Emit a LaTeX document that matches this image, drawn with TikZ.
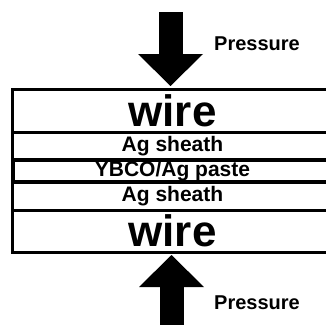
\documentclass[tikz,border=0pt]{standalone}
\usepackage{fontspec}
\setmainfont{Liberation Sans}
\usetikzlibrary{arrows.meta,positioning}

\begin{document}
\begin{tikzpicture}[x=1pt, y=-1pt,
  layer/.style={draw, line width=3pt, minimum width=320pt, inner sep=0pt,
                outer sep=0pt, anchor=north west,
                font=\fontsize{21}{21}\selectfont\bfseries},
  wirelayer/.style={layer, font=\fontsize{44}{44}\selectfont\bfseries},
  pressure/.style={line width=24pt, shorten >=3pt,
                   -{Triangle[width=65pt, length=32pt, line width=0pt]}},
  presslabel/.style={font=\fontsize{20}{20}\selectfont\bfseries},
]
\useasboundingbox (0,0) rectangle (326,324);

\node[wirelayer, minimum height=43pt] (wiretop) at (12.5,89) {wire};
\node[layer, minimum height=28pt, below=0pt of wiretop] (agtop) {Ag sheath};
\node[layer, minimum height=22pt, line width=4pt, below=0pt of agtop] (paste) {YBCO/Ag paste};
\node[layer, minimum height=28pt, below=0pt of paste] (agbot) {Ag sheath};
\node[wirelayer, minimum height=42pt, below=0pt of agbot] (wirebot) {wire};

\coordinate (ptop) at (170.5,12);
\coordinate (pbot) at (171.5,330);
\draw[pressure] (ptop) -- (ptop |- wiretop.north);
\draw[pressure] (pbot) -- (pbot |- wirebot.south);

\node[presslabel] (ptoplabel) at (257,44) {Pressure};
\node[presslabel] (pbotlabel) at (257,303) {Pressure};

\end{tikzpicture}
\end{document}
